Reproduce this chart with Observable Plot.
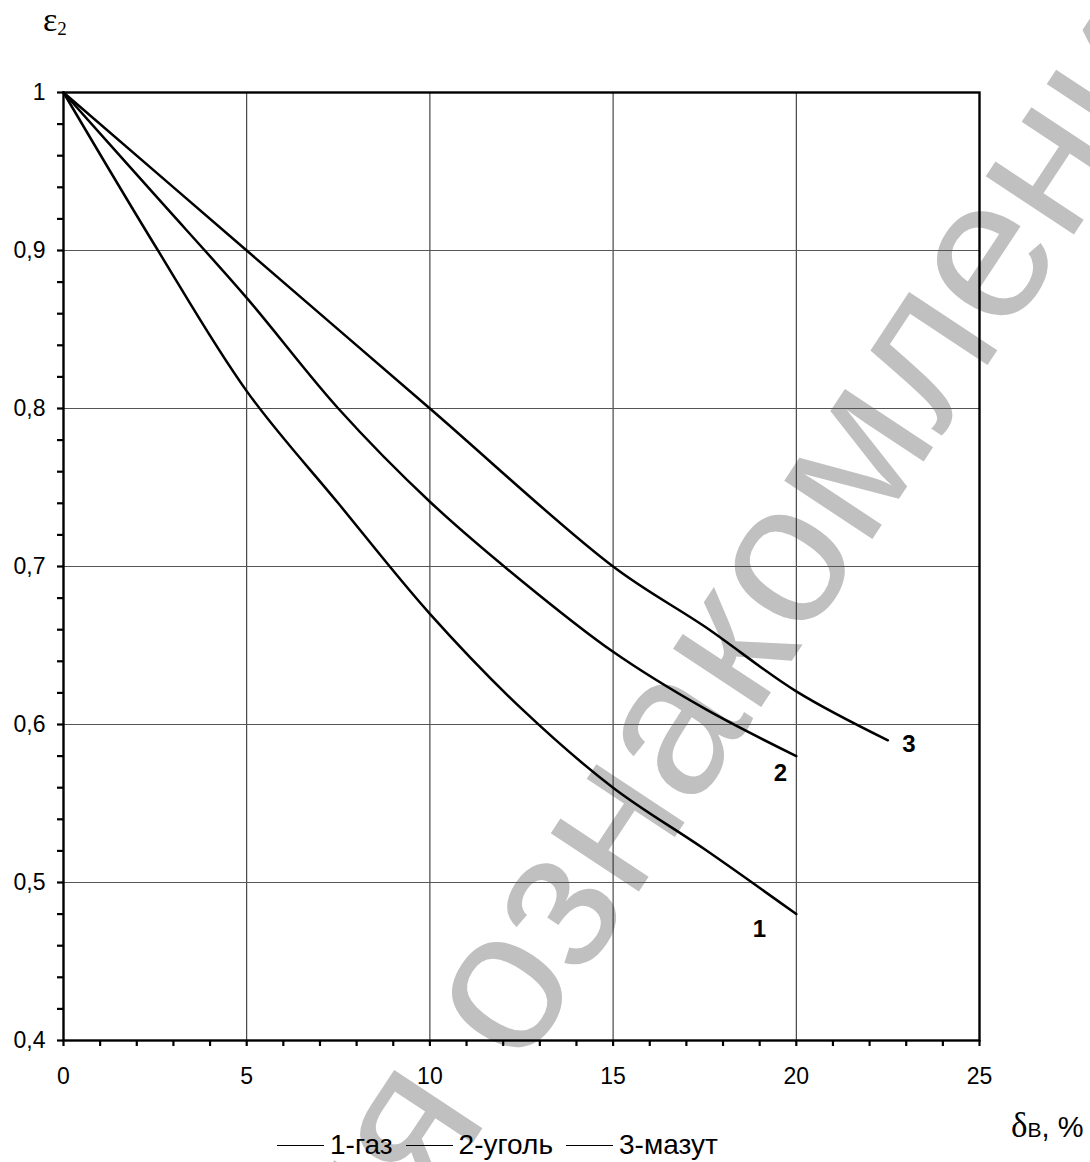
<!DOCTYPE html>
<html>
<head>
<meta charset="utf-8">
<script src="https://cdn.jsdelivr.net/npm/d3@7"></script>
<script src="https://cdn.jsdelivr.net/npm/@observablehq/plot@0.6"></script>
<style>
  html, body { margin: 0; padding: 0; background: white; overflow: hidden; }
  #wrap { position: relative; width: 1090px; height: 1162px; }
  #legend { position: absolute; left: 277px; top: 1131px; height: 28px; display: flex; align-items: center;
    font-family: "Liberation Sans", Arial, sans-serif; font-size: 28px; line-height: 28px; color: black; white-space: nowrap; }
  #legend .sw { display: inline-block; width: 47px; height: 0; border-top: 1.6px solid black; margin-right: 6px; }
  #legend .lb { margin-right: 13px; }
</style>
</head>
<body>
<div id="wrap"></div>
<script>
// ---- data ----
const seriesNames = ["1-газ", "2-уголь", "3-мазут"];
const seriesLabels = ["1", "2", "3"];

const gasX = [0, 2.5, 5, 7.5, 10, 12.5, 15, 17.5, 20];
const gasY = [1, 0.903, 0.811, 0.74, 0.67, 0.61, 0.56, 0.521, 0.48];

const coalX = [0, 2.5, 5, 7.5, 10, 12.5, 15, 17.5, 20];
const coalY = [1, 0.935, 0.87, 0.8, 0.741, 0.691, 0.646, 0.61, 0.58];

const oilX = [0, 5, 10, 15, 17.5, 20, 22.5];
const oilY = [1, 0.9, 0.8, 0.7, 0.662, 0.621, 0.59];

const xTicks = [0, 1, 2, 3, 4, 5, 6, 7, 8, 9, 10, 11, 12, 13, 14, 15, 16, 17, 18, 19, 20, 21, 22, 23, 24, 25];
const xLabelValues = [0, 5, 10, 15, 20, 25];
const xLabels = ["0", "5", "10", "15", "20", "25"];
const xGrid = [5, 10, 15, 20];

const yTicks = [0.4, 0.42, 0.44, 0.46, 0.48, 0.5, 0.52, 0.54, 0.56, 0.58, 0.6, 0.62, 0.64, 0.66, 0.68,
                0.7, 0.72, 0.74, 0.76, 0.78, 0.8, 0.82, 0.84, 0.86, 0.88, 0.9, 0.92, 0.94, 0.96, 0.98, 1];
const yLabelValues = [0.4, 0.5, 0.6, 0.7, 0.8, 0.9, 1];
const yLabels = ["0,4", "0,5", "0,6", "0,7", "0,8", "0,9", "1"];
const yGrid = [0.5, 0.6, 0.7, 0.8, 0.9];

const yTitle = ["ε", "2"];
const xTitle = ["δ", "В", ", %"];
const watermark = "Для ознакомления";

// ---- table ----
const seriesXs = [gasX, coalX, oilX];
const seriesYs = [gasY, coalY, oilY];
const rows = [];
seriesNames.forEach((name, s) => {
  seriesXs[s].forEach((x, i) => rows.push({series: name, label: seriesLabels[s], x, y: seriesYs[s][i]}));
});
const bySeries = (name) => rows.filter(r => r.series === name);

const sans = "'Liberation Sans', Arial, sans-serif";
const serif = "'Liberation Serif', 'Times New Roman', serif";

const fmtX = d => { const i = xLabelValues.indexOf(d); return i >= 0 ? xLabels[i] : ""; };
const fmtY = d => { const i = yLabelValues.indexOf(d); return i >= 0 ? yLabels[i] : ""; };

function titles(index, scales, values, dims) {
  const g = d3.create("svg:g").attr("fill", "black").attr("text-anchor", "start");
  const yt = g.append("text").attr("x", dims.marginLeft - 20).attr("y", dims.marginTop - 61);
  yt.append("tspan").attr("font-family", serif).attr("font-size", 34).text(yTitle[0]);
  yt.append("tspan").attr("font-family", serif).attr("font-size", 19).attr("dy", 4).text(yTitle[1]);
  const xt = g.append("text").attr("x", dims.width - dims.marginRight + 32).attr("y", dims.height - dims.marginBottom + 97);
  xt.append("tspan").attr("font-family", serif).attr("font-size", 35).text(xTitle[0]);
  xt.append("tspan").attr("font-family", sans).attr("font-size", 21).text(xTitle[1]);
  xt.append("tspan").attr("font-family", sans).attr("font-size", 29).text(xTitle[2]);
  return g.node();
}

const labelOffsets = [[-37, 15], [-16, 17], [21, 4]];

const plot = Plot.plot({
  width: 1090,
  height: 1162,
  marginLeft: 63,
  marginRight: 111,
  marginTop: 92,
  marginBottom: 122,
  x: {domain: [0, 25]},
  y: {domain: [0.4, 1]},
  style: {fontFamily: sans, fontSize: "22px", background: "white", color: "black"},
  marks: [
    Plot.text([watermark], {text: d => d, frameAnchor: "middle", dx: 195, dy: 92, rotate: -56.5,
      fontSize: 200, fontFamily: sans, fill: "#c0c0c0"}),
    Plot.ruleX(xGrid, {stroke: "#222", strokeWidth: 1}),
    Plot.ruleY(yGrid, {stroke: "#555", strokeWidth: 1.2}),
    Plot.frame({stroke: "black", strokeWidth: 2.4}),
    Plot.axisX({ticks: xTicks, tickSize: 6, tickPadding: 21, tickFormat: fmtX, strokeWidth: 2.2, fontSize: 23, label: null}),
    Plot.axisY({ticks: yTicks, tickSize: 6, tickPadding: 12, tickFormat: fmtY, strokeWidth: 2.2, fontSize: 23, label: null}),
    Plot.line(rows, {x: "x", y: "y", z: "series", stroke: "black", strokeWidth: 2.5, curve: "catmull-rom"}),
    ...seriesNames.map((name, s) => Plot.text(bySeries(name), Plot.selectLast({
      x: "x", y: "y", text: "label", dx: labelOffsets[s][0], dy: labelOffsets[s][1],
      fontSize: 24, fontWeight: "bold", fill: "black"}))),
    titles
  ]
});

const wrap = document.getElementById("wrap");
wrap.appendChild(plot);

const legend = document.createElement("div");
legend.id = "legend";
seriesNames.forEach((name) => {
  const sw = document.createElement("span"); sw.className = "sw";
  const lb = document.createElement("span"); lb.className = "lb"; lb.textContent = name;
  legend.appendChild(sw); legend.appendChild(lb);
});
wrap.appendChild(legend);
</script>
</body>
</html>
